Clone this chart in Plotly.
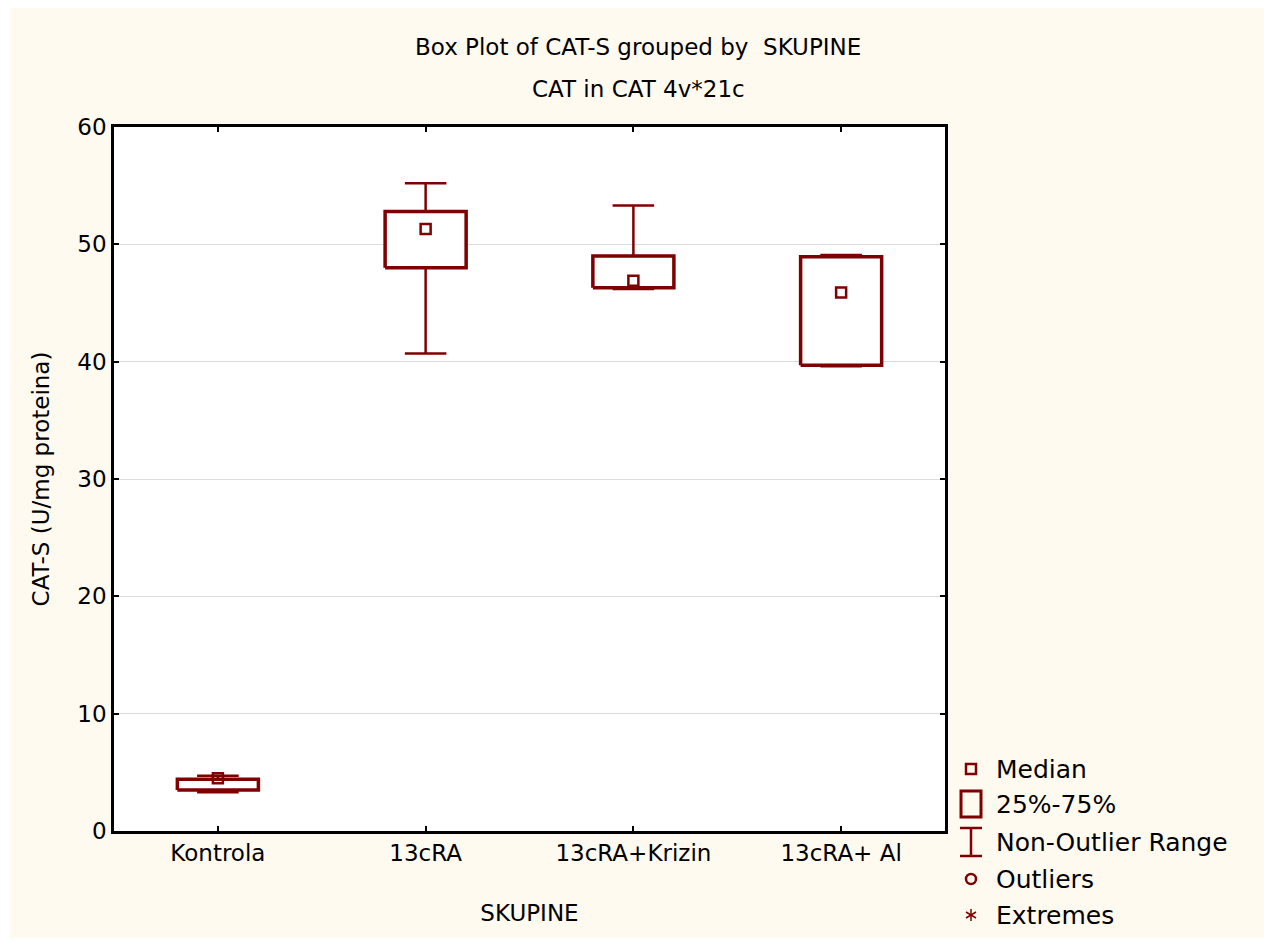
import plotly.graph_objects as go

# ---- data ----
groups = ["Kontrola", "13cRA", "13cRA+Krizin", "13cRA+ Al"]
medians = [4.5, 51.3, 46.9, 45.9]
q1 = [3.5, 48.0, 46.3, 39.7]
q3 = [4.4, 52.8, 49.0, 48.95]
whisk_lo = [3.3, 40.7, 46.2, 39.6]
whisk_hi = [4.7, 55.2, 53.3, 49.1]
y_ticks = [0, 10, 20, 30, 40, 50, 60]
legend_labels = ["Median", "25%-75%", "Non-Outlier Range", "Outliers", "Extremes"]

W, H = 1269, 942
L, R, T, B = 114, 324, 127, 111
PW, PH = W - L - R, H - T - B
RED = "#7f0000"
CREAM = "#fffaf0"
FONT = "DejaVu Sans"

def px(x):
    return (x - L) / PW

def py(y):
    return (H - B - y) / PH

half_box = 0.195
half_cap = 0.10
xpos = list(range(len(groups)))

# box outlines
bx, by = [], []
for i in xpos:
    bx += [i - half_box, i + half_box, i + half_box, i - half_box, i - half_box, None]
    by += [q1[i], q1[i], q3[i], q3[i], q1[i], None]

# whiskers
wx, wy = [], []
for i in xpos:
    wx += [i, i, None, i - half_cap, i + half_cap, None]
    wy += [q3[i], whisk_hi[i], None, whisk_hi[i], whisk_hi[i], None]
    wx += [i, i, None, i - half_cap, i + half_cap, None]
    wy += [q1[i], whisk_lo[i], None, whisk_lo[i], whisk_lo[i], None]

fig = go.Figure()
fig.add_trace(go.Scatter(x=wx, y=wy, mode="lines", line=dict(color=RED, width=2.5),
                         hoverinfo="skip", showlegend=False))
fig.add_trace(go.Scatter(x=bx, y=by, mode="lines", fill="toself", fillcolor="white",
                         line=dict(color=RED, width=3.5), hoverinfo="skip", showlegend=False))
fig.add_trace(go.Scatter(x=xpos, y=medians, mode="markers",
                         marker=dict(symbol="square-open", size=10, color=RED,
                                     line=dict(color=RED, width=2.5)),
                         showlegend=False))

shapes = []
# cream background panel with thin white border
shapes.append(dict(type="rect", xref="paper", yref="paper", layer="below",
                   x0=px(10), x1=px(1264), y0=py(938), y1=py(8),
                   fillcolor=CREAM, line=dict(width=0)))
# plot area white
shapes.append(dict(type="rect", xref="paper", yref="paper", layer="below",
                   x0=0, x1=1, y0=0, y1=1, fillcolor="white", line=dict(width=0)))

annotations = []
# titles
annotations.append(dict(text="Box Plot of CAT-S grouped by  SKUPINE", xref="paper", yref="paper",
                        x=px(638), y=py(47), showarrow=False, xanchor="center", yanchor="middle",
                        font=dict(family=FONT, size=23, color="black")))
annotations.append(dict(text="CAT in CAT 4v*21c", xref="paper", yref="paper",
                        x=px(638), y=py(89), showarrow=False, xanchor="center", yanchor="middle",
                        font=dict(family=FONT, size=23, color="black")))

# legend
leg_y = [769, 804, 842, 879, 915]
icx = 971
for lab, yy in zip(legend_labels, leg_y):
    annotations.append(dict(text=lab, xref="paper", yref="paper", x=px(994), y=py(yy),
                            showarrow=False, xanchor="left", yanchor="middle",
                            font=dict(family=FONT, size=25, color="black")))
# Median icon
shapes.append(dict(type="rect", xref="paper", yref="paper", x0=px(icx - 5), x1=px(icx + 5),
                   y0=py(leg_y[0] + 5), y1=py(leg_y[0] - 5), line=dict(color=RED, width=2.5)))
# 25-75 icon
shapes.append(dict(type="rect", xref="paper", yref="paper", x0=px(icx - 10), x1=px(icx + 10),
                   y0=py(leg_y[1] + 13), y1=py(leg_y[1] - 13), line=dict(color=RED, width=3)))
# Non-outlier range icon
yc = leg_y[2]
for (x0, y0, x1, y1) in [(icx, yc - 14, icx, yc + 14), (icx - 11, yc - 14, icx + 11, yc - 14),
                         (icx - 11, yc + 14, icx + 11, yc + 14)]:
    shapes.append(dict(type="line", xref="paper", yref="paper", x0=px(x0), x1=px(x1),
                       y0=py(y0), y1=py(y1), line=dict(color=RED, width=2.5)))
# Outliers icon
shapes.append(dict(type="circle", xref="paper", yref="paper", x0=px(icx - 5), x1=px(icx + 5),
                   y0=py(leg_y[3] + 5), y1=py(leg_y[3] - 5), line=dict(color=RED, width=2.5)))
# Extremes icon (asterisk)
yc = leg_y[4]
for (x0, y0, x1, y1) in [(icx, yc - 6, icx, yc + 6), (icx - 5, yc - 3, icx + 5, yc + 3),
                         (icx - 5, yc + 3, icx + 5, yc - 3)]:
    shapes.append(dict(type="line", xref="paper", yref="paper", x0=px(x0), x1=px(x1),
                       y0=py(y0), y1=py(y1), line=dict(color=RED, width=1.5)))

fig.update_layout(
    width=W, height=H,
    margin=dict(l=L, r=R, t=T, b=B, autoexpand=False),
    paper_bgcolor="white", plot_bgcolor="white",
    showlegend=False,
    font=dict(family=FONT, size=23, color="black"),
    shapes=shapes, annotations=annotations,
    xaxis=dict(range=[-0.5, 3.5], tickvals=xpos, ticktext=groups, showgrid=False,
               zeroline=False, showline=True, linecolor="black", linewidth=2.5,
               mirror="ticks", ticks="inside", ticklen=5, tickwidth=1.5, tickcolor="black",
               tickfont=dict(family=FONT, size=23),
               title=dict(text="SKUPINE", font=dict(family=FONT, size=23), standoff=40)),
    yaxis=dict(range=[0, 60], tickvals=y_ticks, showgrid=True, gridcolor="#dcdcdc", gridwidth=1,
               zeroline=False, showline=True, linecolor="black", linewidth=2.5,
               mirror="ticks", ticks="inside", ticklen=5, tickwidth=1.5, tickcolor="black",
               tickfont=dict(family=FONT, size=23),
               title=dict(text="CAT-S (U/mg proteina)", font=dict(family=FONT, size=23), standoff=22)),
)

fig.write_html("out.html", config={"displayModeBar": False},
               post_script="document.body.style.margin='0';document.body.style.padding='0';")
